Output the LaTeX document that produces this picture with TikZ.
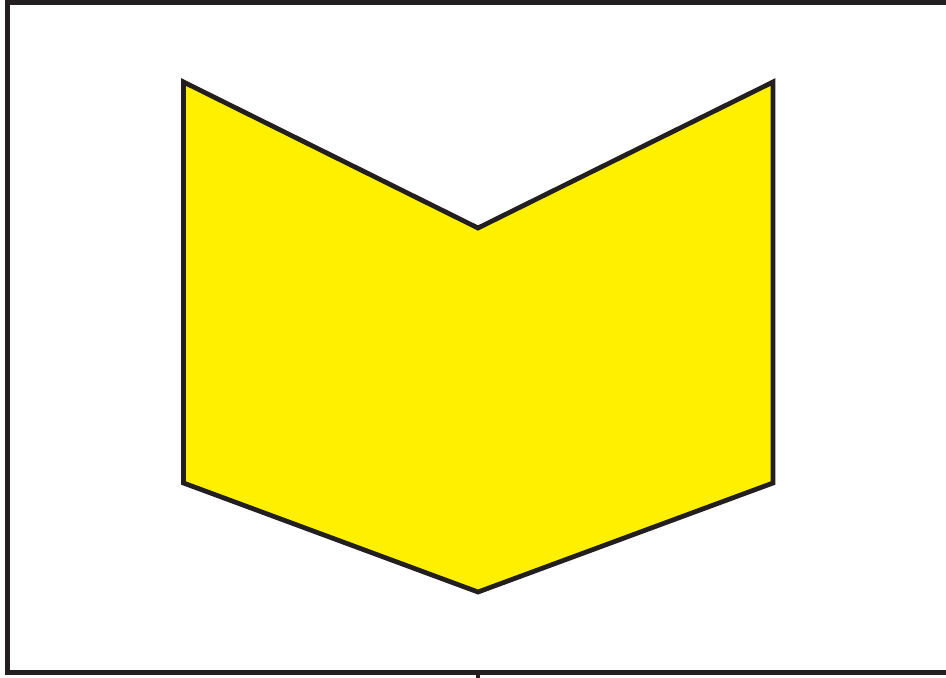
\documentclass[tikz,border=0pt]{standalone}
\usepackage{xcolor}
\usepackage{tikz}
\definecolor{signFill}{HTML}{FFF000}
\definecolor{signEdge}{HTML}{231F20}
\tikzset{
  frameline/.style={draw=signEdge, line width=0.1cm},
  chevron/.style={draw=signEdge, fill=signFill, line width=0.095cm, line join=miter},
}

\begin{document}
\begin{tikzpicture}[x=0.02cm, y=-0.02cm]
  \useasboundingbox (0,0) rectangle (946,677);
  \clip (0,0) rectangle (946,677);
  % outer frame (open to the right)
  \draw[frameline] (7.5,2) -- (960,2);
  \draw[frameline] (7.5,-2) -- (7.5,672.5) -- (960,672.5);
  \draw[signEdge, line width=0.08cm] (478,672) -- (478,680);
  % chevron sign
  \coordinate (tl) at (183.5,82);
  \coordinate (notch) at (478,228);
  \coordinate (tr) at (773,82);
  \coordinate (br) at (773,483);
  \coordinate (tip) at (478,592);
  \coordinate (bl) at (183.5,483);
  \draw[chevron] (tl) -- (notch) -- (tr) -- (br) -- (tip) -- (bl) -- cycle;
\end{tikzpicture}
\end{document}
